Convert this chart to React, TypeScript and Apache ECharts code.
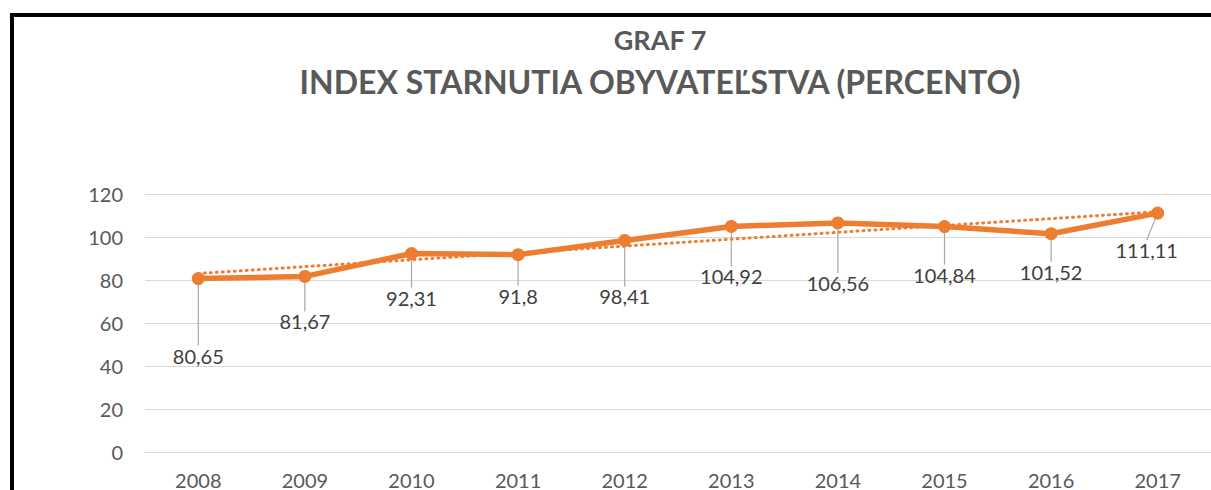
import React, { useEffect, useRef } from "react";
import * as echarts from "echarts";

const years = ["2008", "2009", "2010", "2011", "2012", "2013", "2014", "2015", "2016", "2017"];
const indexValues = [80.65, 81.67, 92.31, 91.8, 98.41, 104.92, 106.56, 104.84, 101.52, 111.11];
const trendEnds = [83.02, 111.74];
const yTicks = { min: 0, max: 120, interval: 20 };
const titleTop = "GRAF 7";
const titleMain = "INDEX STARNUTIA OBYVATEĽSTVA (PERCENTO)";

// label offsets (layout only)
const labelDy = [77, 45, 44, 41, 56, 50, 60, 48, 38, 37];
const labelDx = [0, 0, 0, 0, 0, 0, 0, 0, 0, -11];

const FONT = "Lato";
const ORANGE = "#ED7D31";

export default function App() {
  const ref = useRef<HTMLDivElement>(null);
  useEffect(() => {
    document.body.style.margin = "0";
    document.body.style.overflow = "hidden";
    const chart = echarts.init(ref.current!, null, { renderer: "svg" });
    chart.setOption({
      animation: false,
      backgroundColor: "#ffffff",
      grid: { left: 145, right: -9, top: 194, bottom: 36 },
      xAxis: {
        type: "category",
        data: years,
        boundaryGap: true,
        axisLine: { show: true, lineStyle: { color: "#d9d9d9", width: 1 } },
        axisTick: { show: false },
        axisLabel: { color: "#595959", fontSize: 20, fontFamily: FONT, margin: 18 },
      },
      yAxis: {
        type: "value",
        min: yTicks.min,
        max: yTicks.max,
        interval: yTicks.interval,
        axisLine: { show: false },
        axisTick: { show: false },
        splitLine: { lineStyle: { color: "#d9d9d9", width: 1 } },
        axisLabel: { color: "#595959", fontSize: 20, fontFamily: FONT, margin: 22 },
      },
      graphic: [
        {
          type: "rect",
          shape: { x: 12, y: 15, width: 1400, height: 800 },
          style: { fill: "none", stroke: "#000", lineWidth: 4 },
          silent: true,
          z: 100,
        },
        {
          type: "text",
          x: 660,
          y: 39,
          style: {
            text: titleTop,
            fontFamily: FONT,
            fontWeight: "bold",
            fontSize: 27,
            fill: "#595959",
            textAlign: "center",
            textVerticalAlign: "middle",
          },
        },
        {
          type: "text",
          x: 660,
          y: 81,
          style: {
            text: titleMain,
            fontFamily: FONT,
            fontWeight: "bold",
            fontSize: 32,
            fill: "#595959",
            textAlign: "center",
            textVerticalAlign: "middle",
          },
        },
      ],
      series: [
        {
          type: "line",
          data: indexValues,
          symbol: "circle",
          symbolSize: 13,
          lineStyle: { color: ORANGE, width: 5.5 },
          itemStyle: { color: ORANGE },
          z: 3,
          label: {
            show: true,
            position: "inside",
            color: "#404040",
            fontSize: 20,
            fontFamily: FONT,
            formatter: (p: any) => String(p.value).replace(".", ","),
          },
          labelLayout: (p: any) => ({ dx: labelDx[p.dataIndex], dy: labelDy[p.dataIndex] }),
          labelLine: { show: true, lineStyle: { color: "#a6a6a6", width: 1.2 } },
          markLine: {
            silent: true,
            symbol: "none",
            label: { show: false },
            lineStyle: { color: ORANGE, width: 3, type: [1, 5], cap: "round" },
            data: [[{ coord: [0, trendEnds[0]] }, { coord: [years.length - 1, trendEnds[1]] }]],
            z: 2,
          },
        },
      ],
    });
    return () => chart.dispose();
  }, []);
  return <div ref={ref} style={{ width: 1211, height: 490 }} />;
}
